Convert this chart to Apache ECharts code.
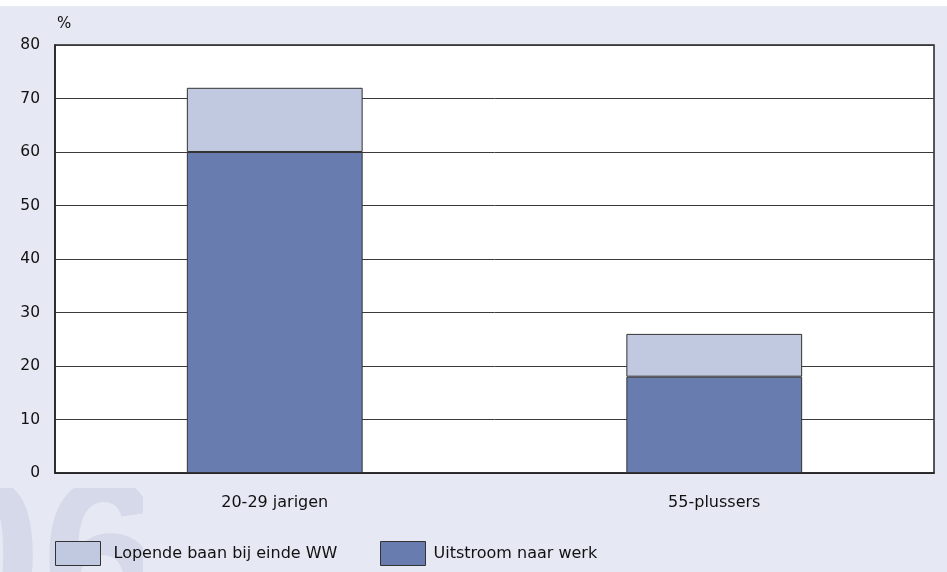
<!DOCTYPE html>
<html>
<head>
<meta charset="utf-8">
<script src="https://cdn.jsdelivr.net/npm/echarts@6/dist/echarts.min.js"></script>
<style>
html,body{margin:0;padding:0;background:#fff;}
#c{width:947px;height:572px;}
</style>
</head>
<body>
<div id="c"></div>
<script>
const categories = ['20-29 jarigen', '55-plussers'];
const uitstroom = [60, 18];
const lopende = [12, 8];
const yTicks = { min: 0, max: 80, interval: 10 };
const seriesNames = ['Lopende baan bij einde WW', 'Uitstroom naar werk'];

const FONT = 'DejaVu Sans';
const BG = '#e6e8f4';
const chart = echarts.init(document.getElementById('c'), null, { renderer: 'canvas' });
chart.setOption({
  animation: false,
  backgroundColor: BG,
  textStyle: { fontFamily: FONT },
  grid: { left: 55, right: 13, top: 45, bottom: 99, show: true, backgroundColor: '#ffffff', borderColor: '#222', borderWidth: 1.5 },
  legend: [
    { data: [seriesNames[0]], left: 55, top: 541, itemWidth: 45, itemHeight: 24, padding: 0, icon: 'rect',
      itemStyle: { borderColor: '#333', borderWidth: 1 },
      textStyle: { fontFamily: FONT, fontSize: 16, color: '#111', padding: [0, 0, 0, 8] } },
    { data: [seriesNames[1]], left: 380, top: 541, itemWidth: 45, itemHeight: 24, padding: 0, icon: 'rect',
      itemStyle: { borderColor: '#333', borderWidth: 1 },
      textStyle: { fontFamily: FONT, fontSize: 16, color: '#111', padding: [0, 0, 0, 3] } }
  ],
  xAxis: {
    type: 'category', data: categories,
    axisLine: { show: true, lineStyle: { color: '#222', width: 1.5 } },
    axisTick: { show: false },
    axisLabel: { fontFamily: FONT, fontSize: 16, color: '#111', margin: 22 }
  },
  yAxis: {
    type: 'value', min: yTicks.min, max: yTicks.max, interval: yTicks.interval,
    name: '%', nameLocation: 'end', nameGap: 21,
    nameTextStyle: { fontFamily: FONT, fontSize: 15, color: '#111', align: 'left', verticalAlign: 'middle', padding: [0, 0, 0, 2] },
    axisLine: { show: true, lineStyle: { color: '#222', width: 1.5 } },
    axisTick: { show: false },
    axisLabel: { fontFamily: FONT, fontSize: 15.5, color: '#111', margin: 15 },
    splitLine: { show: true, lineStyle: { color: '#3a3a3a', width: 1 } }
  },
  series: [
    { name: seriesNames[1], type: 'bar', stack: 's', data: uitstroom, barWidth: '40%',
      itemStyle: { color: '#687cb0', borderColor: '#333', borderWidth: 1 } },
    { name: seriesNames[0], type: 'bar', stack: 's', data: lopende, barWidth: '40%',
      itemStyle: { color: '#c1c9e1', borderColor: '#333', borderWidth: 1 } }
  ],
  graphic: [
    { type: 'rect', z: -1, shape: { x: 0, y: 0, width: 947, height: 6 }, style: { fill: '#ffffff' } },
    { type: 'text', z: -1, z2: 1, left: -78, top: 462, style: { text: '06', fontFamily: 'Liberation Sans', fontWeight: 'bold', fontSize: 215, fill: '#d5d9ea' } },
    { type: 'rect', z: -1, z2: 2, shape: { x: 0, y: 474, width: 260, height: 14 }, style: { fill: BG } },
    { type: 'rect', z: -1, z2: 2, shape: { x: 143, y: 474, width: 120, height: 100 }, style: { fill: BG } }
  ]
});
</script>
</body>
</html>
